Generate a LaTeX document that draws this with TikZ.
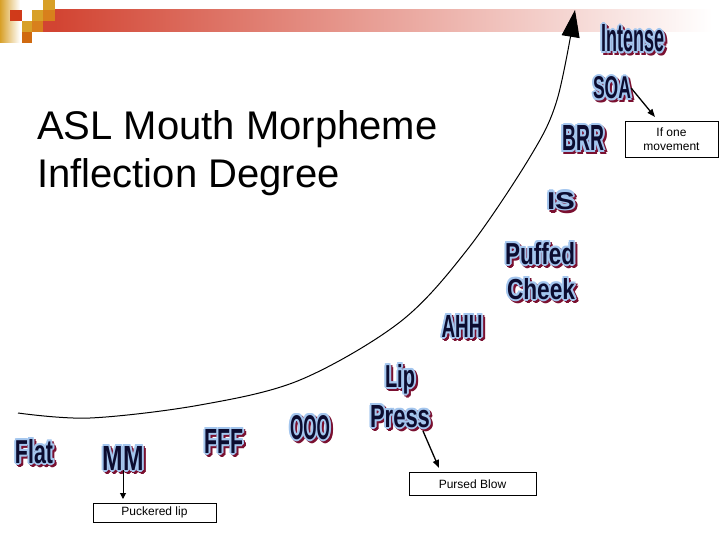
\documentclass[tikz,border=0pt]{standalone}
\usepackage{fontspec}
\setmainfont{Liberation Sans}
\usepackage{graphicx}
\usetikzlibrary{arrows.meta,calc}
\definecolor{waglow}{HTML}{A4C6EE}
\definecolor{wanavy}{HTML}{0C0C30}
\definecolor{wared}{HTML}{7A1030}
\definecolor{barred}{HTML}{D24432}
\definecolor{decgold}{HTML}{D8A028}
\definecolor{decorange}{HTML}{D8801C}
\definecolor{decdark}{HTML}{D06A10}
\definecolor{decred}{HTML}{D03A1A}
\tikzset{
  wa/.style={inner sep=0pt, anchor=base, font=\bfseries\fontsize{30}{30}\selectfont},
  notebox/.style={draw, line width=0.8pt, inner sep=0pt, align=center, font=\fontsize{12}{14}\selectfont},
  arr/.style={line width=1.3pt, -{Triangle[length=8pt,width=6pt]}},
  title/.style={anchor=base west, inner sep=0pt, font=\fontsize{40}{48}\selectfont}
}
% name, base position, width, height, text
\newcommand\WA[5]{%
  \foreach \dx/\dy in {2/0,-2/0,0/2,0/-2,1.4/1.4,1.4/-1.4,-1.4/1.4,-1.4/-1.4}{%
    \node[wa,text=wared] at ([shift={(\dx+2,\dy+2)}]#2) {\resizebox{#3pt}{#4pt}{#5}};}
  \foreach \dx/\dy in {2/0,-2/0,0/2,0/-2,1.4/1.4,1.4/-1.4,-1.4/1.4,-1.4/-1.4}{%
    \node[wa,text=waglow] at ([shift={(\dx,\dy)}]#2) {\resizebox{#3pt}{#4pt}{#5}};}
  \node[wa,text=wanavy] (#1) at (#2) {\resizebox{#3pt}{#4pt}{#5}};
}
\begin{document}
\begin{tikzpicture}[x=1pt,y=-1pt]
\useasboundingbox (0,0) rectangle (720,540);
% top decoration
\shade[left color=decgold, right color=white] (0,0) rectangle (20,43);
\shade[left color=barred, right color=white] (55,10) rectangle (712,32);
\fill[decred] (10,10) rectangle (22,21);
\fill[decgold] (43,0) rectangle (55,10);
\fill[decgold] (32,10) rectangle (43,21);
\fill[decorange] (43,10) rectangle (55,21);
\fill[decgold] (22,21) rectangle (32,32);
\fill[decorange] (32,21) rectangle (43,32);
\fill[barred] (43,21) rectangle (55,32);
\fill[decdark] (22,32) rectangle (32,43);
% title
\node[title] (t1) at (37,140) {ASL Mouth Morpheme};
\node[title] (t2) at (37,188) {Inflection Degree};
% curve
\draw[line width=1pt, -{Triangle[length=27pt,width=18pt]}] plot[smooth, tension=0.55] coordinates {
 (18,413) (90,418) (200,405) (300,380) (400,322) (467,250) (530,157) (557,100) (575,10)};
% labels
\WA{intense}{633,52}{63}{27}{Intense}
\WA{SOA}{612,99}{38}{22}{SOA}
\WA{BRR}{583,151}{42}{25}{BRR}
\WA{IS}{561,209}{28}{17}{IS}
\WA{puffed}{540,264}{70}{22}{Puffed}
\WA{cheek}{541,299}{68}{21}{Cheek}
\WA{AHH}{462,337}{41}{22}{AHH}
\WA{lip}{400,387}{30}{23}{Lip}
\WA{press}{400,427}{60}{22}{Press}
\WA{OOO}{310,439}{40}{24}{OOO}
\WA{FFF}{224,453}{39}{24}{FFF}
\WA{flat}{34,463}{38}{24}{Flat}
\WA{MM}{123,470}{41}{24}{MM}
% note boxes
\node[notebox, minimum width=93pt, minimum height=36pt] (ifone) at (671.5,139) {If one\\movement};
\node[notebox, minimum width=127pt, minimum height=23pt] (pursed) at (472.5,484) {Pursed Blow};
\node[notebox, minimum width=123pt, minimum height=19pt] (puckered) at (154.5,512.5) {Puckered lip};
% arrows
\coordinate (soaEnd) at (655,117);
\coordinate (pressStart) at (423,431);
\coordinate (pursedEnd) at (439,468);
\coordinate (mmEnd) at (123,499);
\draw[arr] (SOA.east) -- (soaEnd);
\draw[arr] (pressStart) -- (pursedEnd);
\draw[line width=1pt, -{Triangle[length=6pt,width=6pt]}] (MM.south) -- (mmEnd);
\end{tikzpicture}
\end{document}
